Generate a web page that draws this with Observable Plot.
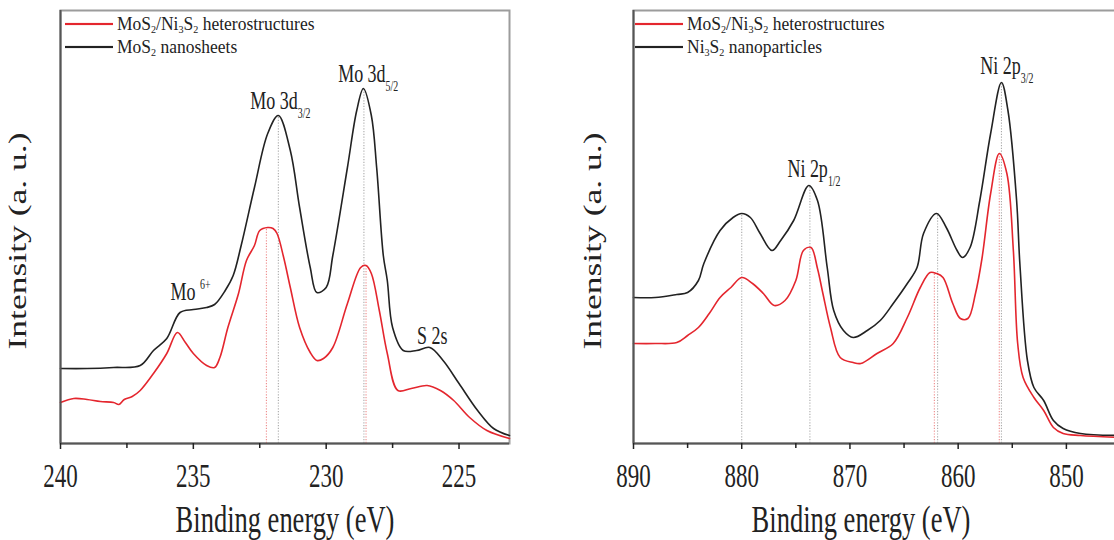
<!DOCTYPE html>
<html><head><meta charset="utf-8">
<script src="https://cdn.jsdelivr.net/npm/d3@7"></script>
<script src="https://cdn.jsdelivr.net/npm/@observablehq/plot@0.6"></script>
<style>
body{margin:0;background:#fff;}
#wrap{display:flex;width:1114px;height:540px;overflow:hidden;}
.panel{position:relative;height:540px;overflow:hidden;flex:none;}
.panel svg{max-width:none !important;}
.row{position:absolute;display:flex;align-items:center;white-space:nowrap;height:14px;line-height:14px;
 font-family:"Liberation Serif","Times New Roman",serif;font-size:17.5px;color:#222;
 transform:scaleY(1.08);transform-origin:left center;}
.sw{display:inline-block;width:48px;height:2px;margin-right:4px;}
sub{font-size:0.58em;vertical-align:-0.22em;line-height:0;}
</style></head>
<body>
<div id="wrap"><div class="panel" id="left" style="width:560px"></div><div class="panel" id="right" style="width:554px"></div></div>
<script>
// ---------- data (binding energy eV, intensity a.u.) ----------
const moHetero = [[240,41],[239.5,45],[239,44],[238.5,42],[238,41],[237.8,39],[237.6,44],[237.3,47],[237,53],[236.5,70],[236,90],[235.6,111],[235.3,101],[235,90],[234.5,78],[234.2,76],[234,86],[233.7,116],[233.3,150],[233,183],[232.7,198],[232.5,213],[232.2,216],[232,215],[231.85,210],[231.6,186],[231.35,156],[231,116],[230.6,91],[230.35,83],[230.1,85],[229.75,96],[229.2,140],[228.7,176],[228.5,178],[228.3,170],[228,133],[227.7,90],[227.3,53],[226.8,55],[226.2,58],[225.7,53],[225.2,43],[224.6,26],[223.95,13],[223.1,5]];
const moNanosheets = [[240,75],[239,75],[238,76],[237,78],[236.5,93],[236,105],[235.5,131],[235,134],[234.5,136],[234.2,139],[233.8,153],[233.5,168],[233.2,198],[232.7,256],[232.2,310],[231.8,328],[231.35,293],[231,236],[230.6,176],[230.35,151],[230,156],[229.75,188],[229.2,276],[228.85,333],[228.6,355],[228.3,328],[228.1,276],[227.85,188],[227.7,163],[227.5,116],[227.1,93],[226.6,93],[226.1,96],[225.6,83],[225,60],[224.3,33],[223.7,15],[223.1,8]];
const niHetero = [[890,100],[888,100],[886,101],[885,108],[884,116],[883,130],[882,146],[881,156],[880,166],[879,160],[878,150],[877,138],[876,143],[875,163],[874.3,193],[873.6,196],[873,175],[872.5,150],[871.8,116],[870.9,86],[869.7,81],[869,80],[867.5,90],[866,100],[864.7,126],[863.5,156],[862.6,171],[862,170],[861.4,166],[860.5,140],[859.8,125],[859.1,125],[858.4,150],[857.8,185],[857,250],[856.2,290],[855.5,270],[854.9,193],[854.5,100],[854,66],[853,46],[852.1,33],[851.2,16],[850.3,10],[848.7,8],[845,6]];
const niNanoparticles = [[890,146],[888,146],[886,149],[885,151],[884,163],[883.5,180],[882,213],[880.8,226],[880,230],[879.2,226],[878.3,210],[877.2,193],[876.4,203],[875.2,223],[873.8,258],[873,243],[872.1,176],[871.5,133],[870.6,113],[869.7,106],[868.4,113],[867.2,123],[866,140],[864.7,160],[863.8,176],[863.2,210],[862,230],[861.1,216],[860.1,193],[859.6,186],[858.9,196],[858,243],[857,310],[856,361],[855.4,333],[854.6,243],[854.3,180],[853.6,83],[853,56],[852.1,43],[851.2,23],[850.3,15],[848.7,10],[845,8]];

const leftPeaks = [{e:232.25,top:216,s:"red"},{e:231.8,top:328,s:"black"},{e:228.5,top:178,s:"red"},{e:228.58,top:355,s:"black"}];
const rightPeaks = [{e:880,top:230,s:"black"},{e:873.7,top:258,s:"black"},{e:862.2,top:170,s:"red"},{e:861.9,top:230,s:"black"},{e:856.2,top:290,s:"red"},{e:856,top:361,s:"black"}];

const leftNotes = [{e:232.86,i:336,t:"Mo 3d_{3/2}"},{e:229.55,i:363,t:"Mo 3d_{5/2}"},{e:235.86,i:146,t:"Mo ^{6+}"},{e:226.58,i:102,t:"S 2s"}];
const rightNotes = [{e:875.78,i:268,t:"Ni 2p_{1/2}"},{e:857.96,i:371,t:"Ni 2p_{3/2}"}];

const leftTicks = [240,235,230,225], leftMinor = [237.5,232.5,227.5];
const rightTicks = [890,880,870,860,850], rightMinor = [885,875,865,855];
const xTitle = "Binding energy (eV)", yTitle = "Intensity (a. u.)";
const leftLegend = ["MoS<sub>2</sub>/Ni<sub>3</sub>S<sub>2</sub> heterostructures","MoS<sub>2</sub> nanosheets"];
const rightLegend = ["MoS<sub>2</sub>/Ni<sub>3</sub>S<sub>2</sub> heterostructures","Ni<sub>3</sub>S<sub>2</sub> nanoparticles"];

const RED = "#e4262e", BLACK = "#222", FONT = '"Liberation Serif", "Times New Roman", serif';
const K = 1.45;

function panel(o){
  return Plot.plot({
    width:o.width, height:540, marginLeft:o.ml, marginRight:o.mr, marginTop:10, marginBottom:97,
    style:{fontFamily:FONT, fontSize:"23px", color:"#222", background:"transparent", overflow:"visible", maxWidth:"none"},
    x:{domain:o.domain}, y:{domain:[0,433], axis:null},
    marks:[
      Plot.frame({stroke:"#9c9c9c", strokeWidth:2}),
      Plot.ruleX(o.peaks, {x:"e", y1:0, y2:"top", stroke:d=>d.s==="red"?"#ee8a8a":"#aaa", strokeWidth:1.1, strokeDasharray:"1.2,1.6"}),
      Plot.line(o.b, {x:d=>d[0], y:d=>d[1], stroke:BLACK, strokeWidth:1.6, curve:"catmull-rom"}),
      Plot.line(o.r, {x:d=>d[0], y:d=>d[1], stroke:RED, strokeWidth:1.6, curve:"catmull-rom"}),
      Plot.ruleX([o.domain[0]], {stroke:"#555", strokeWidth:2}),
      Plot.ruleY([0], {stroke:"#555", strokeWidth:2}),
      Plot.axisX({ticks:o.ticks, tickSize:6, tickPadding:18, strokeWidth:1.5, label:null, fontSize:23, fontFamily:FONT}),
      Plot.axisX({ticks:o.minor, tickSize:5, strokeWidth:1.5, tickFormat:()=>"", label:null}),
      Plot.text(o.notes, {x:"e", y:"i", text:"t", textAnchor:"start", lineAnchor:"bottom", fontSize:18, fontFamily:FONT, fill:"#222"}),
      Plot.text([yTitle], {frameAnchor:"left", rotate:-90, textAnchor:"middle", lineAnchor:"middle", dx:o.ydx, dy:14, fontSize:24.5, fontFamily:FONT, fill:"#222"}),
      Plot.text([xTitle], {frameAnchor:"bottom", textAnchor:"middle", dx:o.tdx, dy:84, fontSize:26.5, fontFamily:FONT, fill:"#222"})
    ]
  });
}

function richify(svg){
  svg.querySelectorAll("text").forEach(t=>{
    const s=t.textContent;
    if(!/[_^]\{/.test(s)) return;
    const fs=parseFloat(getComputedStyle(t).fontSize);
    t.textContent="";
    const re=/([_^])\{([^}]*)\}|([^_^]+)/g; let m, shift=0;
    while((m=re.exec(s))){
      const ts=document.createElementNS("http://www.w3.org/2000/svg","tspan");
      let target;
      if(m[3]!==undefined){ target=0; ts.textContent=m[3]; }
      else { target = m[1]==="_" ? fs*0.32 : -fs*0.45; ts.textContent=m[2]; ts.setAttribute("font-size", fs*0.55); }
      ts.setAttribute("dy", target-shift); shift=target;
      t.appendChild(ts);
    }
  });
}
function stretch(svg){
  svg.querySelectorAll("text").forEach(t=>{
    if(!t.textContent) return;
    const tr=t.getAttribute("transform")||"";
    if(/rotate\(/.test(tr)){ t.setAttribute("transform", `${tr} scale(${K},1)`); return; }
    const bb=t.getBBox(); const ax=bb.x+bb.width/2, ay=bb.y+bb.height/2;
    t.setAttribute("transform", `${tr} translate(${ax},${ay}) scale(1,${K}) translate(${-ax},${-ay})`);
  });
}
function legend(el, items, x0){
  [RED,BLACK].forEach((c,i)=>{
    const r=document.createElement("div"); r.className="row";
    r.style.left=x0+"px"; r.style.top=(17+i*23)+"px";
    r.innerHTML=`<span class="sw" style="background:${c}"></span><span>${items[i]}</span>`;
    el.appendChild(r);
  });
}

const L=document.getElementById("left"), R=document.getElementById("right");
const s1=panel({width:560, ml:60, mr:51, domain:[240,223.1], b:moNanosheets, r:moHetero, peaks:leftPeaks, notes:leftNotes, ticks:leftTicks, minor:leftMinor, ydx:-42, tdx:0});
const s2=panel({width:580, ml:73, mr:20, domain:[890,845], b:niNanoparticles, r:niHetero, peaks:rightPeaks, notes:rightNotes, ticks:rightTicks, minor:rightMinor, ydx:-40, tdx:-16});
L.appendChild(s1); R.appendChild(s2);
[s1,s2].forEach(s=>{richify(s); stretch(s);});
legend(L, leftLegend, 65);
legend(R, rightLegend, 75);
</script>
</body></html>
